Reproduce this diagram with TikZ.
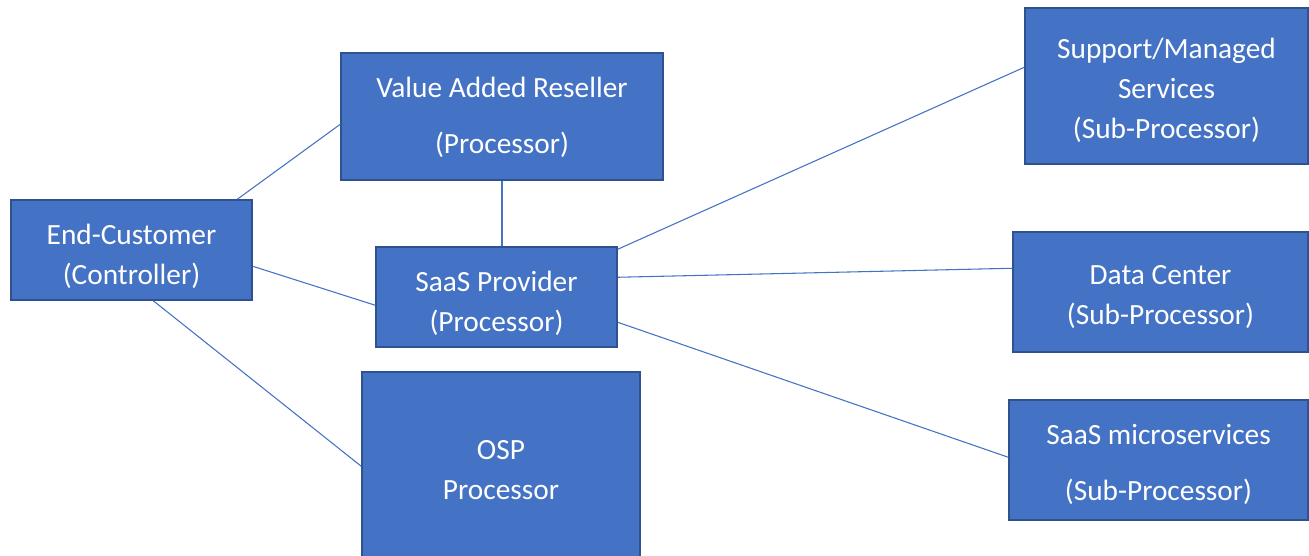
\documentclass[tikz,border=0pt]{standalone}
\usepackage{fontspec}
\setmainfont{Carlito}
\usetikzlibrary{calc}
\definecolor{boxfill}{HTML}{4472C4}
\definecolor{boxedge}{HTML}{2F528F}
\definecolor{linkcol}{HTML}{4472C4}
\tikzset{
  role/.style={draw=boxedge, line width=1.1pt, fill=boxfill, inner sep=0pt},
  caption/.style={text=white, align=center, inner sep=0pt,
    font=\fontsize{22}{30}\selectfont},
  link/.style={draw=linkcol, line width=0.8pt}
}
\begin{document}
\begin{tikzpicture}[x=0.75pt, y=-0.75pt]
\useasboundingbox (0,0) rectangle (1309,556);
\clip (0,0) rectangle (1309,556);
\fill[white] (0,0) rectangle (1309,556);

% parties
\node[role, minimum width=180.75pt, minimum height=75pt,
  label={[caption, yshift=-5pt]center:End-Customer\\(Controller)}] (ec) at (131.5,250) {};
\node[role, minimum width=241.5pt, minimum height=95.25pt,
  label={[caption, yshift=-0.5pt]center:Value Added Reseller\\[12pt](Processor)}] (var) at (502,116.5) {};
\node[role, minimum width=180.75pt, minimum height=75pt,
  label={[caption, yshift=-5pt]center:SaaS Provider\\(Processor)}] (saas) at (496.5,297) {};
\node[role, minimum width=208.5pt, minimum height=145.5pt,
  label={[caption, yshift=-0.5pt]center:OSP\\Processor}] (osp) at (501,469) {};
\node[role, minimum width=212.25pt, minimum height=117pt,
  label={[caption, yshift=-3pt]center:Support/Managed\\Services\\(Sub-Processor)}] (sup) at (1166.5,86) {};
\node[role, minimum width=221.25pt, minimum height=90pt,
  label={[caption, yshift=-3.5pt]center:Data Center\\(Sub-Processor)}] (dc) at (1160.5,292) {};
\node[role, minimum width=224.25pt, minimum height=90pt,
  label={[caption, yshift=-3pt]center:SaaS microservices\\[12pt](Sub-Processor)}] (ms) at (1158.5,460) {};

% relations
\draw[link] ($(ec.north west)+(227,0)$) -- ($(var.north west)+(0,72)$);
\draw[link] ($(ec.north east)+(0,67)$) -- ($(saas.north west)+(0,59)$);
\draw[link] ($(ec.south west)+(143,0)$) -- ($(osp.north west)+(0,95)$);
\draw[link] (var.south) -- (var.south |- saas.north);
\draw[link] ($(saas.north east)+(0,3)$) -- ($(sup.north west)+(0,60)$);
\draw[link] ($(saas.north east)+(0,31)$) -- ($(dc.north west)+(0,37)$);
\draw[link] ($(saas.north east)+(0,76)$) -- ($(ms.north west)+(0,58)$);
\end{tikzpicture}
\end{document}
